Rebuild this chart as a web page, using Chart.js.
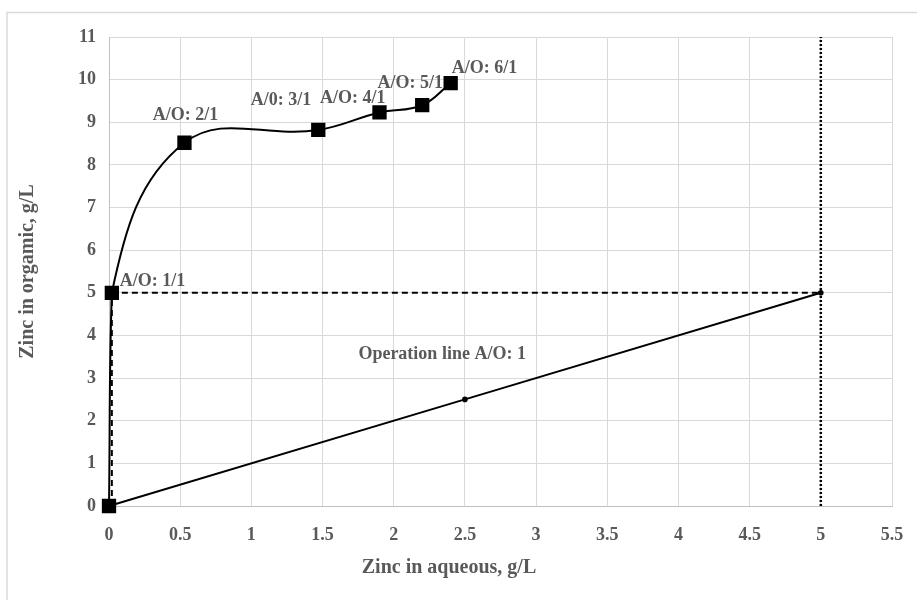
<!DOCTYPE html>
<html>
<head>
<meta charset="utf-8">
<script src="https://cdn.jsdelivr.net/npm/chart.js@4.4.1/dist/chart.umd.min.js"></script>
<style>
  html, body { margin: 0; padding: 0; background: #fff; }
  #wrap { width: 917px; height: 600px; }
</style>
</head>
<body>
<div id="wrap"><canvas id="isoChart" width="917" height="600"></canvas></div>
<script>
// isotherm points (zinc aqueous vs organic)
const aqueous = [0, 0.02, 0.53, 1.47, 1.9, 2.2, 2.4];
const organic = [0, 5, 8.52, 8.82, 9.23, 9.4, 9.92];
const pointLabels = ["", "A/O: 1/1", "A/O: 2/1", "A/0: 3/1", "A/O: 4/1", "A/O: 5/1", "A/O: 6/1"];

// operation line A/O = 1
const opX = [0, 2.5, 5];
const opY = [0, 2.5, 5];

// construction lines
const hDashX = [0.02, 5];
const hDashY = [5, 5];
const vDashX = [0.02, 0.02];
const vDashY = [0, 5];
const feedX = [5, 5];
const feedY = [0, 11];

const xTitle = "Zinc in aqueous, g/L";
const yTitle = "Zinc in orgamic, g/L";
const opLabel = "Operation line A/O: 1";

const FONT = "'Liberation Serif', 'Times New Roman', serif";
const GREY = "#595959";

const toPts = (xs, ys) => xs.map((x, i) => ({ x: x, y: ys[i] }));

// label placement relative to each point: [dx, dy, align]
const labelOffsets = [
    null,
    [8, -11, "left"],
    [1, -27, "center"],
    [-7, -30, "right"],
    [6, -14, "right"],
    [-12, -22, "center"],
    [1, -15, "left"]
];

const extras = {
    id: "extras",
    beforeDraw(chart) {
        const ctx = chart.ctx;
        ctx.save();
        ctx.strokeStyle = "#d9d9d9";
        ctx.lineWidth = 1.5;
        ctx.beginPath();
        ctx.moveTo(7, 600);
        ctx.lineTo(7, 12.5);
        ctx.lineTo(917, 12.5);
        ctx.stroke();
        ctx.restore();
    },
    afterDatasetsDraw(chart) {
        const ctx = chart.ctx;
        const xs = chart.scales.x, ys = chart.scales.y;
        ctx.save();
        ctx.fillStyle = GREY;
        ctx.font = "bold 18px " + FONT;
        ctx.textBaseline = "middle";
        pointLabels.forEach((txt, i) => {
            const off = labelOffsets[i];
            if (!txt || !off) return;
            ctx.textAlign = off[2];
            ctx.fillText(txt, xs.getPixelForValue(aqueous[i]) + off[0], ys.getPixelForValue(organic[i]) + off[1]);
        });
        ctx.textAlign = "center";
        ctx.fillText(opLabel, xs.getPixelForValue(2.34), ys.getPixelForValue(3.55));
        // x axis title
        ctx.font = "bold 20px " + FONT;
        ctx.fillText(xTitle, 449, 568);
        ctx.restore();
    }
};

const ctx = document.getElementById("isoChart").getContext("2d");
new Chart(ctx, {
    type: "scatter",
    data: {
        datasets: [
            {
                label: "Isotherm",
                data: toPts(aqueous, organic),
                showLine: true,
                tension: 0.4,
                borderColor: "#000",
                borderWidth: 2,
                backgroundColor: "#000",
                pointStyle: "rect",
                pointRadius: 8.7,
                pointHoverRadius: 8.7,
                clip: false
            },
            {
                label: "Operation line",
                data: toPts(opX, opY),
                showLine: true,
                borderColor: "#000",
                borderWidth: 2,
                backgroundColor: "#000",
                pointRadius: 1.8,
                clip: false
            },
            {
                label: "h",
                data: toPts(hDashX, hDashY),
                showLine: true,
                borderColor: "#000",
                borderWidth: 2,
                borderDash: [6, 4],
                pointRadius: 0
            },
            {
                label: "v",
                data: toPts(vDashX, vDashY),
                showLine: true,
                borderColor: "#000",
                borderWidth: 2,
                borderDash: [6, 4],
                pointRadius: 0
            },
            {
                label: "feed",
                data: toPts(feedX, feedY),
                showLine: true,
                borderColor: "#000",
                borderWidth: 2.5,
                borderDash: [2, 2],
                pointRadius: 0
            }
        ]
    },
    options: {
        responsive: false,
        animation: false,
        layout: { padding: { left: 0, top: 37, right: 25, bottom: 0 } },
        plugins: {
            legend: { display: false },
            tooltip: { enabled: false }
        },
        scales: {
            x: {
                type: "linear",
                min: 0,
                max: 5.5,
                ticks: {
                    stepSize: 0.5,
                    color: GREY,
                    padding: 19,
                    font: { family: FONT, size: 18, weight: "bold" },
                    callback: v => String(v)
                },
                grid: { color: "#d9d9d9", lineWidth: 1, drawTicks: false },
                border: { color: "#bfbfbf", width: 1 },
                afterFit(scale) {
                    scale.height = 94;
                    scale.paddingLeft = 0;
                    scale.paddingRight = 0;
                }
            },
            y: {
                type: "linear",
                min: 0,
                max: 11,
                ticks: {
                    stepSize: 1,
                    color: GREY,
                    padding: 13,
                    font: { family: FONT, size: 18, weight: "bold" },
                    callback: v => String(v)
                },
                grid: { color: "#d9d9d9", lineWidth: 1, drawTicks: false },
                border: { color: "#bfbfbf", width: 1 },
                title: {
                    display: true,
                    text: yTitle,
                    color: GREY,
                    padding: { top: 16, bottom: 0 },
                    font: { family: FONT, size: 20, weight: "bold" }
                },
                afterFit(scale) {
                    scale.width = 109;
                    scale.paddingTop = 0;
                    scale.paddingBottom = 0;
                }
            }
        }
    },
    plugins: [extras]
});
</script>
</body>
</html>
